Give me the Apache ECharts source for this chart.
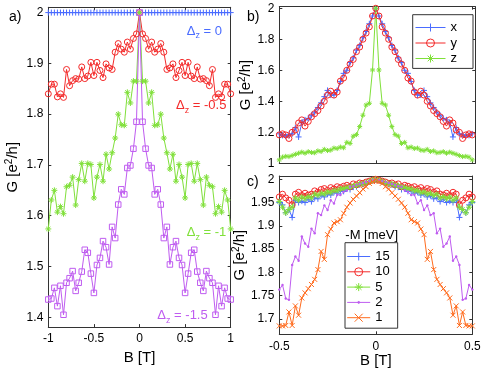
<!DOCTYPE html>
<html>
<head>
<meta charset="utf-8">
<script src="https://cdn.jsdelivr.net/npm/echarts@6/dist/echarts.min.js"></script>
<style>
  html, body { margin: 0; padding: 0; background: #fff; }
  #main { width: 485px; height: 370px; }
</style>
</head>
<body>
<div id="main"></div>
<script>
const FONT = '"Liberation Sans", Arial, Helvetica, sans-serif'

function linspace(a, b, n) {
  return Array.from({ length: n }, (_, i) => +(a + (b - a) * i / (n - 1)).toFixed(5))
}

// B [T] sample points
const bA = linspace(-1, 1, 61)
const bBC = linspace(-0.5, 0.5, 61)

// panel a) G [e^2/h] for Δz = 0, -0.5, -1, -1.5
const gA0 = [2,2,2,2,2,2,2,2,2,2,2,2,2,2,2,2,2,2,2,2,2,2,2,2,2,2,2,2,2,2,2,2,2,2,2,2,2,2,2,2,2,2,2,2,2,2,2,2,2,2,2,2,2,2,2,2,2,2,2,2,2]
const gA05 = [1.840,1.859,1.859,1.834,1.840,1.833,1.888,1.856,1.866,1.870,1.869,1.893,1.870,1.875,1.902,1.876,1.902,1.886,1.872,1.899,1.891,1.888,1.922,1.939,1.928,1.922,1.942,1.928,1.949,1.958,
  2.0,
  1.958,1.949,1.928,1.942,1.922,1.928,1.939,1.922,1.888,1.891,1.899,1.872,1.886,1.902,1.876,1.902,1.875,1.870,1.893,1.869,1.870,1.866,1.856,1.888,1.833,1.840,1.834,1.859,1.859,1.840]
const gA1 = [1.574,1.631,1.650,1.607,1.618,1.604,1.657,1.660,1.676,1.621,1.671,1.703,1.668,1.703,1.701,1.635,1.676,1.701,1.668,1.721,1.692,1.724,1.753,1.800,1.779,1.778,1.843,1.822,1.865,1.865,
  2.0,
  1.865,1.865,1.822,1.843,1.778,1.779,1.800,1.753,1.724,1.692,1.721,1.668,1.701,1.676,1.635,1.701,1.703,1.668,1.703,1.671,1.621,1.676,1.660,1.657,1.604,1.618,1.607,1.650,1.631,1.574]
const gA15 = [1.435,1.437,1.458,1.422,1.462,1.405,1.468,1.477,1.491,1.452,1.468,1.490,1.533,1.527,1.486,1.448,1.503,1.517,1.550,1.538,1.504,1.578,1.556,1.622,1.652,1.642,1.694,1.699,1.732,1.785,
  2.0,
  1.785,1.732,1.699,1.694,1.642,1.652,1.622,1.556,1.578,1.504,1.538,1.550,1.517,1.503,1.448,1.486,1.527,1.533,1.490,1.468,1.452,1.491,1.477,1.468,1.405,1.462,1.422,1.458,1.437,1.435]

// panel b) field direction x, y, z
const gBx = [1.190,1.180,1.175,1.185,1.190,1.230,1.170,1.260,1.280,1.290,1.310,1.330,1.360,1.390,1.430,1.470,1.440,1.440,1.470,1.527,1.580,1.600,1.650,1.680,1.730,1.760,1.810,1.850,1.900,1.950,
  2.0,
  1.950,1.900,1.850,1.810,1.760,1.730,1.680,1.650,1.600,1.580,1.527,1.470,1.440,1.440,1.470,1.430,1.390,1.360,1.330,1.310,1.290,1.280,1.260,1.170,1.230,1.190,1.185,1.175,1.180,1.190]
const gBy = [1.183,1.190,1.183,1.160,1.200,1.215,1.260,1.280,1.240,1.270,1.300,1.320,1.340,1.370,1.400,1.440,1.465,1.440,1.460,1.530,1.550,1.600,1.640,1.670,1.720,1.750,1.800,1.840,1.880,1.950,
  2.0,
  1.950,1.880,1.840,1.800,1.750,1.720,1.670,1.640,1.600,1.550,1.530,1.460,1.440,1.465,1.440,1.400,1.370,1.340,1.320,1.300,1.270,1.240,1.280,1.260,1.215,1.200,1.160,1.183,1.190,1.183]
const gBz = [1.022,1.040,1.045,1.043,1.050,1.058,1.065,1.072,1.065,1.075,1.070,1.068,1.080,1.076,1.090,1.082,1.085,1.098,1.095,1.105,1.100,1.135,1.128,1.175,1.185,1.237,1.310,1.376,1.387,1.602,
  2.0,
  1.602,1.387,1.376,1.310,1.237,1.185,1.175,1.128,1.135,1.100,1.105,1.095,1.098,1.085,1.082,1.090,1.076,1.080,1.068,1.070,1.075,1.065,1.072,1.065,1.058,1.050,1.043,1.045,1.040,1.022]

// panel c) -M = 15, 10, 5, 2, 1 meV
const gC15 = [1.950,1.945,1.928,1.935,1.918,1.955,1.950,1.953,1.950,1.957,1.952,1.960,1.958,1.965,1.962,1.968,1.966,1.972,1.970,1.975,1.974,1.979,1.978,1.983,1.984,1.988,1.989,1.992,1.995,1.998,
  2.0,
  1.998,1.995,1.992,1.989,1.988,1.984,1.983,1.978,1.979,1.974,1.975,1.970,1.972,1.966,1.968,1.962,1.965,1.958,1.960,1.952,1.957,1.950,1.953,1.950,1.955,1.918,1.935,1.928,1.945,1.950]
const gC10 = [1.962,1.968,1.960,1.955,1.945,1.968,1.972,1.965,1.970,1.966,1.968,1.975,1.972,1.978,1.980,1.976,1.982,1.979,1.984,1.982,1.985,1.987,1.984,1.990,1.988,1.992,1.991,1.994,1.996,1.998,
  2.0,
  1.998,1.996,1.994,1.991,1.992,1.988,1.990,1.984,1.987,1.985,1.982,1.984,1.979,1.982,1.976,1.980,1.978,1.972,1.975,1.968,1.966,1.970,1.965,1.972,1.968,1.945,1.955,1.960,1.968,1.962]
const gC5 = [1.952,1.940,1.928,1.935,1.940,1.960,1.955,1.962,1.958,1.963,1.960,1.968,1.965,1.970,1.968,1.973,1.971,1.976,1.975,1.979,1.980,1.982,1.983,1.986,1.987,1.990,1.990,1.993,1.995,1.998,
  2.0,
  1.998,1.995,1.993,1.990,1.990,1.987,1.986,1.983,1.982,1.980,1.979,1.975,1.976,1.971,1.973,1.968,1.970,1.965,1.968,1.960,1.963,1.958,1.962,1.955,1.960,1.940,1.935,1.928,1.940,1.952]
const gC2 = [1.763,1.773,1.744,1.741,1.816,1.834,1.825,1.877,1.862,1.855,1.894,1.884,1.927,1.923,1.944,1.934,1.955,1.948,1.967,1.966,1.973,1.976,1.984,1.985,1.988,1.990,1.992,1.994,1.996,1.998,
  2.0,
  1.998,1.996,1.994,1.992,1.990,1.988,1.985,1.984,1.976,1.973,1.966,1.967,1.948,1.955,1.934,1.944,1.923,1.927,1.884,1.894,1.855,1.862,1.877,1.825,1.834,1.816,1.741,1.744,1.773,1.763]
const gC1 = [1.685,1.685,1.686,1.715,1.686,1.728,1.708,1.745,1.756,1.765,1.774,1.785,1.806,1.845,1.828,1.881,1.893,1.906,1.909,1.913,1.927,1.940,1.949,1.957,1.964,1.971,1.979,1.984,1.991,1.995,
  2.0,
  1.995,1.991,1.984,1.979,1.971,1.964,1.957,1.949,1.940,1.927,1.913,1.909,1.906,1.893,1.881,1.828,1.845,1.806,1.785,1.774,1.765,1.756,1.745,1.708,1.728,1.686,1.715,1.686,1.685,1.685]

// ticks
const ticksAx = [-1, -0.5, 0, 0.5, 1]
const ticksAy = [1.4, 1.5, 1.6, 1.7, 1.8, 1.9, 2]
const ticksBx = [-0.5, 0, 0.5]
const ticksBy = [1, 1.2, 1.4, 1.6, 1.8, 2]
const ticksCy = [1.7, 1.75, 1.8, 1.85, 1.9, 1.95, 2]

const BLUE = '#4a6cff'
const RED = '#f42a2a'
const GREEN = '#80e03a'
const PURPLE = '#bf5cf0'
const ORANGE = '#ff6a1c'

const PLUS = 'path://M0,5L10,5M5,0L5,10'
const CROSS = 'path://M0,0L10,10M0,10L10,0'
const STAR = 'path://M5,0L5,10M0,5L10,5M1.5,1.5L8.5,8.5M1.5,8.5L8.5,1.5'
const DOT = 'path://M0,0M10,10M3.8,5A1.2,1.2,0,1,1,6.2,5A1.2,1.2,0,1,1,3.8,5Z'

const labelRich = {
  n: { fontSize: 15, fontFamily: FONT, lineHeight: 16, verticalAlign: 'bottom', color: '#000' },
  sup: { fontSize: 10, fontFamily: FONT, lineHeight: 10, padding: [0, 0, 6, 0], verticalAlign: 'bottom', color: '#000' },
}
const gName = '{n|G [e}{sup|2}{n|/h]}'

function xAx(grid, min, max, ticks, pos, showLabel, name) {
  return {
    type: 'value', gridIndex: grid, min: min, max: max, position: pos,
    axisLine: { show: true, onZero: false, lineStyle: { color: '#333', width: 1 } },
    axisTick: { show: true, inside: true, length: 3, customValues: ticks, lineStyle: { color: '#333' } },
    axisLabel: { show: showLabel, customValues: ticks, margin: 6, color: '#000', fontSize: 12, fontFamily: FONT },
    splitLine: { show: false },
    name: name || '', nameLocation: 'middle', nameGap: 19,
    nameTextStyle: { color: '#000', fontSize: 15, fontFamily: FONT },
  }
}

function yAx(grid, min, max, ticks, pos, showLabel, gap) {
  return {
    type: 'value', gridIndex: grid, min: min, max: max, position: pos,
    axisLine: { show: true, onZero: false, lineStyle: { color: '#333', width: 1 } },
    axisTick: { show: true, inside: true, length: 3, customValues: ticks, lineStyle: { color: '#333' } },
    axisLabel: { show: showLabel, customValues: ticks, margin: 5, color: '#000', fontSize: 12, fontFamily: FONT },
    splitLine: { show: false },
    name: gap ? gName : '', nameLocation: 'middle', nameGap: gap || 0,
    nameTextStyle: { rich: labelRich },
  }
}

// ax = panel index; the primary axes of each panel sit at 2 * panel
function line(name, xs, ys, color, symbol, size, ax, filled) {
  return {
    type: 'line', name: name, xAxisIndex: ax * 2, yAxisIndex: ax * 2,
    data: xs.map((x, i) => [x, ys[i]]),
    symbol: symbol, symbolSize: size, showAllSymbol: true, symbolKeepAspect: true,
    lineStyle: { color: color, width: 1 },
    itemStyle: { color: filled ? color : 'rgba(0,0,0,0)', borderColor: color, borderWidth: filled ? 0 : 1 },
    emphasis: { disabled: true },
    animation: false,
  }
}

function subLabel(x, y, value, color) {
  return {
    type: 'text', x: x, y: y,
    style: {
      text: '{d|Δ}{s|z}{d| = ' + value + '}', fill: color, verticalAlign: 'middle',
      rich: {
        d: { fontSize: 13, fontFamily: FONT, lineHeight: 14, padding: [0, 0, 3, 0], verticalAlign: 'bottom' },
        s: { fontSize: 9, fontFamily: FONT, lineHeight: 10, verticalAlign: 'bottom' },
      },
    },
  }
}

function plainText(x, y, text, size, align) {
  return {
    type: 'text', x: x, y: y,
    style: { text: text, fill: '#000', font: size + 'px ' + FONT, align: align || 'left', verticalAlign: 'middle' },
  }
}

function legendBox(names, left, top, itemWidth, itemGap, padding) {
  return {
    data: names, orient: 'vertical', left: left, top: top,
    itemWidth: itemWidth, itemHeight: 10, itemGap: itemGap, padding: padding,
    backgroundColor: '#fff', borderColor: '#333', borderWidth: 1, borderRadius: 0,
    lineStyle: { width: 1 },
    itemStyle: { borderWidth: 1 },
    textStyle: { fontSize: 13, fontFamily: FONT, color: '#000', lineHeight: 10 },
    selectedMode: false,
  }
}

const chart = echarts.init(document.getElementById('main'), null, { renderer: 'canvas' })

chart.setOption({
  backgroundColor: '#fff',
  animation: false,
  grid: [
    { left: 48.3, top: 7.3, width: 182.4, height: 326.7 },
    { left: 279.3, top: 6.7, width: 196, height: 156.6 },
    { left: 279.3, top: 176, width: 193, height: 158.3 },
  ],
  xAxis: [
    xAx(0, -1, 1, ticksAx, 'bottom', true, 'B [T]'),
    xAx(0, -1, 1, ticksAx, 'top', false),
    xAx(1, -0.5, 0.516, ticksBx, 'bottom', false),
    xAx(1, -0.5, 0.516, ticksBx, 'top', false),
    xAx(2, -0.5, 0.5, ticksBx, 'bottom', true, 'B [T]'),
    xAx(2, -0.5, 0.5, ticksBx, 'top', false),
  ],
  yAxis: [
    yAx(0, 1.3807, 2.0104, ticksAy, 'left', true, 28),
    yAx(0, 1.3807, 2.0104, ticksAy, 'right', false),
    yAx(1, 1, 2.01, ticksBy, 'left', true, 14),
    yAx(1, 1, 2.01, ticksBy, 'right', false),
    yAx(2, 1.667, 2.007, ticksCy, 'left', true, 21),
    yAx(2, 1.667, 2.007, ticksCy, 'right', false),
  ],
  legend: [
    legendBox(['x', 'y', 'z'], 412.7, 14.7, 30, 2.5, [6.3, 16, 3.4, 2.3]),
    legendBox(['15', '10', '5', '2', '1'], 345, 242.7, 23, 2.3, [7.3, 8, 4, 1.7]),
  ],
  graphic: [
    plainText(9, 17.5, 'a)', 14),
    plainText(247, 17, 'b)', 14),
    plainText(247, 182, 'c)', 14),
    plainText(371.7, 235, '-M [meV]', 13, 'center'),
    subLabel(186.7, 33.5, '0', BLUE),
    subLabel(176, 108, '-0.5', RED),
    subLabel(186.7, 235, '-1', GREEN),
    subLabel(157.3, 318, '-1.5', PURPLE),
  ],
  series: [
    line('a0', bA, gA0, BLUE, PLUS, 6, 0),
    line('a05', bA, gA05, RED, 'circle', 6, 0),
    line('a1', bA, gA1, GREEN, STAR, 6, 0),
    line('a15', bA, gA15, PURPLE, 'rect', 5.5, 0),
    line('x', bBC, gBx, BLUE, PLUS, 6, 1),
    line('y', bBC, gBy, RED, 'circle', 6, 1),
    line('z', bBC, gBz, GREEN, STAR, 5, 1),
    line('15', bBC, gC15, BLUE, PLUS, 6, 2),
    line('10', bBC, gC10, RED, 'circle', 6, 2),
    line('5', bBC, gC5, GREEN, STAR, 6, 2),
    line('2', bBC, gC2, PURPLE, DOT, 10, 2, true),
    line('1', bBC, gC1, ORANGE, CROSS, 5, 2),
  ],
})
</script>
</body>
</html>
